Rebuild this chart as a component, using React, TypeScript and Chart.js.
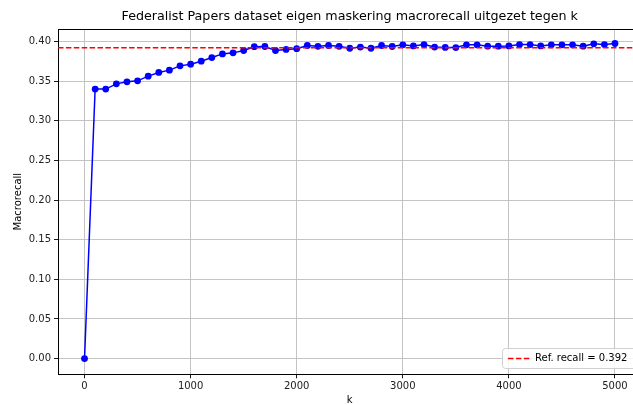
import React, { useEffect, useRef } from "react";
import { Chart, registerables } from "chart.js";

Chart.register(...registerables);

const kValues = [
  0, 100, 200, 300, 400, 500, 600, 700, 800, 900,
  1000, 1100, 1200, 1300, 1400, 1500, 1600, 1700, 1800, 1900,
  2000, 2100, 2200, 2300, 2400, 2500, 2600, 2700, 2800, 2900,
  3000, 3100, 3200, 3300, 3400, 3500, 3600, 3700, 3800, 3900,
  4000, 4100, 4200, 4300, 4400, 4500, 4600, 4700, 4800, 4900, 5000,
];
const macrorecall = [
  0.0, 0.34, 0.34, 0.3466, 0.3492, 0.3504, 0.3563, 0.361, 0.3639, 0.3693,
  0.3714, 0.3752, 0.3798, 0.3844, 0.3857, 0.3887, 0.3935, 0.3937, 0.3887, 0.39,
  0.391, 0.395, 0.394, 0.395, 0.394, 0.3915, 0.393, 0.3915, 0.395, 0.3937,
  0.3958, 0.3945, 0.3962, 0.393, 0.3926, 0.3924, 0.3958, 0.3958, 0.3941, 0.3941,
  0.3945, 0.3962, 0.3962, 0.3945, 0.3958, 0.3958, 0.3958, 0.3941, 0.3971, 0.3962, 0.3975,
];
const refRecall = 0.392;
const refLabel = "Ref. recall = 0.392";
const xTicks = [0, 1000, 2000, 3000, 4000, 5000];
const yTicks = [0, 0.05, 0.1, 0.15, 0.2, 0.25, 0.3, 0.35, 0.4];
const titleText = "Federalist Papers dataset eigen maskering macrorecall uitgezet tegen k";
const xLabel = "k";
const yLabel = "Macrorecall";

const FONT = "'DejaVu Sans', sans-serif";

const decorPlugin = {
  id: "decor",
  afterDraw(chart: any) {
    const { ctx, chartArea } = chart;
    const { left, right, top, bottom } = chartArea;
    ctx.save();
    // top spine
    ctx.strokeStyle = "#000";
    ctx.lineWidth = 1;
    ctx.beginPath();
    ctx.moveTo(left, top + 0.5);
    ctx.lineTo(right, top + 0.5);
    ctx.moveTo(right - 0.5, top);
    ctx.lineTo(right - 0.5, bottom);
    ctx.stroke();
    // title
    ctx.fillStyle = "#000";
    ctx.font = `12.7px ${FONT}`;
    ctx.textAlign = "center";
    ctx.textBaseline = "middle";
    ctx.fillText(titleText, (left + right) / 2, 17);
    // x label
    ctx.font = `10px ${FONT}`;
    ctx.fillText(xLabel, (left + right) / 2, 400);
    // y label
    ctx.save();
    ctx.translate(18, (top + bottom) / 2);
    ctx.rotate(-Math.PI / 2);
    ctx.fillText(yLabel, 0, 0);
    ctx.restore();
    // legend
    const bx = 502, by = 348, bw = 140, bh = 20;
    ctx.fillStyle = "rgba(255,255,255,0.85)";
    ctx.strokeStyle = "#d0d0d0";
    ctx.lineWidth = 1;
    ctx.beginPath();
    (ctx as any).roundRect(bx + 0.5, by + 0.5, bw, bh, 3);
    ctx.fill();
    ctx.stroke();
    ctx.strokeStyle = "red";
    ctx.lineWidth = 1.5;
    ctx.setLineDash([5.5, 2.4]);
    ctx.beginPath();
    ctx.moveTo(508, by + bh / 2 + 0.5);
    ctx.lineTo(530, by + bh / 2 + 0.5);
    ctx.stroke();
    ctx.setLineDash([]);
    ctx.fillStyle = "#000";
    ctx.textAlign = "left";
    ctx.font = `10px ${FONT}`;
    ctx.fillText(refLabel, 535, by + bh / 2 + 0.5);
    ctx.restore();
  },
};

export default function App() {
  const ref = useRef<HTMLCanvasElement | null>(null);
  useEffect(() => {
    if (!ref.current) return;
    const points = kValues.map((k, i) => ({ x: k, y: macrorecall[i] }));
    const chart = new Chart(ref.current, {
      type: "line",
      data: {
        datasets: [
          {
            label: refLabel,
            data: [
              { x: -250, y: refRecall },
              { x: 5250, y: refRecall },
            ],
            borderColor: "red",
            borderWidth: 1.5,
            borderDash: [5.5, 2.4],
            pointRadius: 0,
            fill: false,
          },
          {
            label: "macrorecall",
            data: points,
            borderColor: "blue",
            backgroundColor: "blue",
            borderWidth: 1.5,
            pointRadius: 3.4,
            pointBorderWidth: 0,
            pointBackgroundColor: "blue",
            fill: false,
            tension: 0,
          },
        ],
      },
      plugins: [decorPlugin],
      options: {
        responsive: false,
        animation: false,
        events: [],
        layout: { padding: { top: 29, left: 0, right: 18.5, bottom: 0 } },
        plugins: {
          legend: { display: false },
          title: { display: false },
          tooltip: { enabled: false },
        },
        scales: {
          x: {
            type: "linear",
            min: -250,
            max: 5250,
            afterBuildTicks: (s: any) => {
              s.ticks = xTicks.map((v) => ({ value: v }));
            },
            afterFit: (s: any) => {
              s.height = 30.7;
            },
            grid: {
              color: "#bdbdbd",
              lineWidth: 0.9,
              tickColor: "#000",
              tickLength: 4,
              drawTicks: true,
            },
            border: { display: true, color: "#000", width: 1 },
            ticks: {
              font: { family: FONT, size: 10 },
              color: "#222",
              padding: 2,
              maxRotation: 0,
              autoSkip: false,
              callback: (v: any) => String(v),
            },
          },
          y: {
            type: "linear",
            min: -0.0198,
            max: 0.4158,
            afterBuildTicks: (s: any) => {
              s.ticks = yTicks.map((v) => ({ value: v }));
            },
            afterFit: (s: any) => {
              s.width = 58;
            },
            grid: {
              color: "#bdbdbd",
              lineWidth: 0.9,
              tickColor: "#000",
              tickLength: 4,
              drawTicks: true,
            },
            border: { display: true, color: "#000", width: 1 },
            ticks: {
              font: { family: FONT, size: 10 },
              color: "#222",
              padding: 3,
              autoSkip: false,
              callback: (v: any) => Number(v).toFixed(2),
            },
          },
        },
      },
    });
    return () => chart.destroy();
  }, []);
  return (
    <div
      style={{
        position: "fixed",
        left: 0,
        top: 0,
        width: 633,
        height: 405,
        overflow: "hidden",
        background: "#fff",
      }}
    >
      <canvas ref={ref} width={660} height={405} style={{ display: "block" }} />
    </div>
  );
}
